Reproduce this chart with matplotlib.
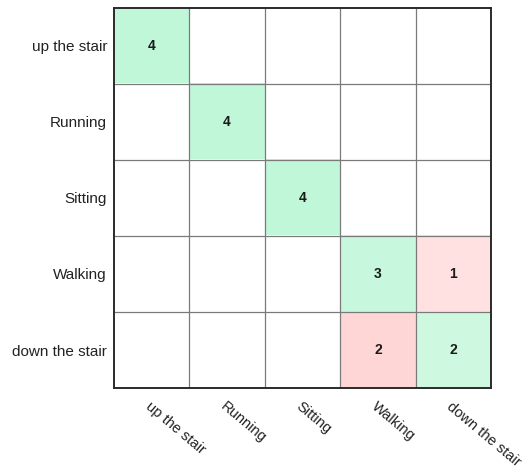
import numpy as np
import matplotlib.pyplot as plt
from matplotlib.colors import to_rgb

plt.rcParams['font.family'] = ['Liberation Sans', 'DejaVu Sans']

classes = ["up the stair", "Running", "Sitting", "Walking", "down the stair"]
counts = np.array([
    [4, 0, 0, 0, 0],
    [0, 4, 0, 0, 0],
    [0, 0, 4, 0, 0],
    [0, 0, 0, 3, 1],
    [0, 0, 0, 2, 2],
])

# row-normalised share drives the tint of each cell
share = counts / counts.sum(axis=1, keepdims=True)
good = np.array(to_rgb("#c0f7d8"))
bad = np.array(to_rgb("#ffd6d6"))
white = np.ones(3)

n = len(classes)
rgb = np.ones((n, n, 3))
for i in range(n):
    for j in range(n):
        if counts[i, j] == 0:
            continue
        base = good if i == j else bad
        t = 0.55 + 0.45 * share[i, j] if i == j else 0.45 + 1.1 * share[i, j]
        t = min(t, 1.0)
        rgb[i, j] = white + (base - white) * t

fig = plt.figure(figsize=(5.31, 4.71), dpi=100)
ax = fig.add_axes([0.2147, 0.1762, 0.710, 0.807])
ax.imshow(rgb, aspect='auto', interpolation='nearest',
          extent=(-0.5, n - 0.5, n - 0.5, -0.5))

for k in range(1, n):
    ax.axvline(k - 0.5, color='#7a7a7a', lw=0.9)
    ax.axhline(k - 0.5, color='#7a7a7a', lw=0.9)

for i in range(n):
    for j in range(n):
        if counts[i, j]:
            ax.text(j, i, str(counts[i, j]), ha='center', va='center',
                    fontsize=10, fontweight='bold', color='#1a1a1a')

for s in ax.spines.values():
    s.set_color('#2a2a2a')
    s.set_linewidth(1.4)

ax.set_xlim(-0.5, n - 0.5)
ax.set_ylim(n - 0.5, -0.5)
ax.set_xticks(range(n))
ax.set_yticks(range(n))
ax.set_yticklabels(classes, fontsize=11, color='#222222')
ax.set_xticklabels(classes, fontsize=10.5, color='#222222', rotation=-40,
                   ha='left', va='top', rotation_mode='anchor')
ax.tick_params(length=0, pad=8, axis='x')
ax.tick_params(length=0, pad=5, axis='y')
ax.set_title("Model 2A", fontsize=11, color='#555555', pad=6)

fig.savefig("out.png", dpi=100, facecolor='white')
